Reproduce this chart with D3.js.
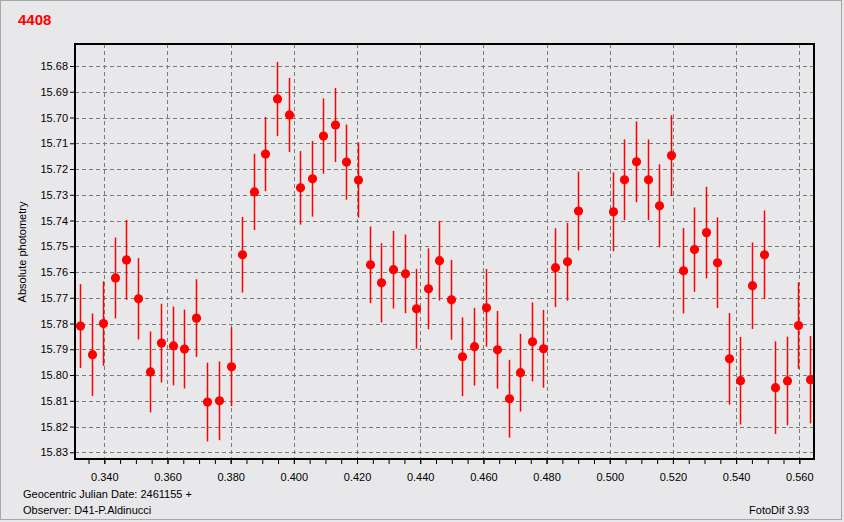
<!DOCTYPE html>
<html><head><meta charset="utf-8">
<script src="https://cdn.jsdelivr.net/npm/d3@7/dist/d3.min.js"></script>
<style>
html,body{margin:0;padding:0;background:#e8e8ea;}
svg{display:block;font-family:"Liberation Sans",Arial,sans-serif;}
</style></head>
<body>
<svg id="c" width="844" height="522"></svg>
<script>
const title = "4408";
const yLabel = "Absolute photometry";
const footer1 = "Geocentric Julian Date: 2461155 +";
const footer2 = "Observer: D41-P.Aldinucci";
const credit = "FotoDif 3.93";

const jd = [0.3323,0.3361,0.3396,0.3434,0.3469,0.3507,0.3545,0.3580,0.3618,0.3652,0.3690,0.3725,0.3763,0.3801,
0.3836,0.3874,0.3909,0.3947,0.3985,0.4020,0.4058,0.4092,0.4130,0.4165,0.4203,0.4241,0.4276,0.4314,0.4352,0.4387,
0.4425,0.4460,0.4498,0.4532,0.4570,0.4608,0.4643,0.4681,0.4716,0.4754,0.4789,0.4827,0.4865,0.4899,
0.5010,0.5045,0.5083,0.5121,0.5156,0.5194,0.5232,0.5267,0.5305,0.5340,0.5378,0.5412,0.5450,0.5488,0.5523,0.5561,0.5596,0.5634];
const mag = [15.7810,15.7921,15.7800,15.7623,15.7553,15.7704,15.7988,15.7876,15.7887,15.7899,15.7779,15.8105,15.8100,15.7968,
15.7533,15.7289,15.7142,15.6928,15.6990,15.7273,15.7238,15.7072,15.7029,15.7173,15.7243,15.7572,15.7642,15.7591,15.7607,15.7743,
15.7665,15.7556,15.7708,15.7929,15.7890,15.7739,15.7902,15.8092,15.7991,15.7871,15.7898,15.7583,15.7560,15.7363,
15.7366,15.7242,15.7172,15.7242,15.7343,15.7148,15.7595,15.7513,15.7447,15.7564,15.7937,15.8022,15.7653,15.7533,15.8049,15.8023,15.7808,15.8018];
const err = [0.0163,0.0160,0.0164,0.0157,0.0155,0.0158,0.0157,0.0153,0.0153,0.0153,0.0151,0.0153,0.0153,0.0153,
0.0147,0.0148,0.0144,0.0144,0.0144,0.0143,0.0147,0.0146,0.0144,0.0146,0.0146,0.0149,0.0154,0.0151,0.0153,0.0155,
0.0157,0.0155,0.0155,0.0153,0.0151,0.0151,0.0151,0.0151,0.0151,0.0153,0.0151,0.0153,0.0151,0.0153,
0.0153,0.0157,0.0157,0.0157,0.0161,0.0157,0.0166,0.0164,0.0178,0.0176,0.0178,0.0170,0.0168,0.0172,0.0180,0.0172,0.0168,0.0170];

const xTicks = [0.340,0.360,0.380,0.400,0.420,0.440,0.460,0.480,0.500,0.520,0.540,0.560];
const xMinor = d3.range(0,47).map(i => +(0.335 + i*0.005).toFixed(3));
const yTicks = [15.68,15.69,15.70,15.71,15.72,15.73,15.74,15.75,15.76,15.77,15.78,15.79,15.80,15.81,15.82,15.83];

const svg = d3.select("#c");
const P = {l:75, r:814, t:44, b:459};

const x = d3.scaleLinear().domain([0.340,0.560]).range([104.3,799.3]);
const y = d3.scaleLinear().domain([15.68,15.83]).range([66,452.3]);

svg.append("rect").attr("x",0.5).attr("y",0.5).attr("width",841).attr("height",519)
  .attr("fill","#e8e8ea").attr("stroke","#a8a8a8");

svg.append("text").attr("x",18).attr("y",25).attr("fill","#ff0000")
  .attr("font-size",15).attr("font-weight","bold").text(title);

svg.append("defs").append("clipPath").attr("id","clip").append("rect")
  .attr("x",P.l).attr("y",P.t).attr("width",P.r-P.l).attr("height",P.b-P.t);

const grid = svg.append("g").attr("stroke","#7a7a7a").attr("stroke-dasharray","4,3").attr("stroke-width",1);
grid.selectAll("line.v").data(xTicks).join("line").attr("class","v")
  .attr("x1",d=>Math.round(x(d))+0.5).attr("x2",d=>Math.round(x(d))+0.5).attr("y1",P.t).attr("y2",P.b);
grid.selectAll("line.h").data(yTicks).join("line").attr("class","h")
  .attr("y1",d=>Math.round(y(d))+0.5).attr("y2",d=>Math.round(y(d))+0.5).attr("x1",P.l).attr("x2",P.r);

const data = jd.map((d,i)=>({x:d,y:mag[i],e:err[i]}));
const g = svg.append("g").attr("clip-path","url(#clip)");
g.selectAll("line.eb").data(data).join("line").attr("class","eb")
  .attr("x1",d=>Math.round(x(d.x))+0.5).attr("x2",d=>Math.round(x(d.x))+0.5)
  .attr("y1",d=>y(d.y-d.e)).attr("y2",d=>y(d.y+d.e))
  .attr("stroke","#ff0000").attr("stroke-width",1.5);
g.selectAll("circle").data(data).join("circle")
  .attr("cx",d=>Math.round(x(d.x))+0.5).attr("cy",d=>y(d.y)).attr("r",4.6).attr("fill","#ff0000");

const xa = svg.append("g").attr("transform",`translate(0,${P.b})`)
  .call(d3.axisBottom(x).tickValues(xMinor.filter(v=>v>=0.331&&v<=0.5645)).tickSize(5).tickFormat(""));
xa.select(".domain").remove();
xa.selectAll("line").attr("stroke","#000");
const xl = svg.append("g").attr("transform",`translate(0,${P.b})`)
  .call(d3.axisBottom(x).tickValues(xTicks).tickSize(5).tickPadding(9).tickFormat(d3.format(".3f")));
xl.select(".domain").remove();
xl.selectAll("line").attr("stroke","#000");
xl.selectAll("text").attr("font-size",11).attr("fill","#000").attr("font-family","Liberation Sans, Arial, sans-serif");

const ya = svg.append("g").attr("transform",`translate(${P.l},0)`)
  .call(d3.axisLeft(y).tickValues(yTicks).tickSize(5).tickPadding(2).tickFormat(d3.format(".2f")));
ya.select(".domain").remove();
ya.selectAll("line").attr("stroke","#000");
ya.selectAll("text").attr("font-size",11).attr("fill","#000").attr("font-family","Liberation Sans, Arial, sans-serif");

svg.append("rect").attr("x",P.l).attr("y",P.t).attr("width",P.r-P.l).attr("height",P.b-P.t)
  .attr("fill","none").attr("stroke","#000").attr("stroke-width",2);

svg.append("text").attr("transform","translate(26,252) rotate(-90)").attr("text-anchor","middle")
  .attr("font-size",11).attr("fill","#000").text(yLabel);

svg.append("text").attr("x",23).attr("y",498).attr("font-size",11).attr("fill","#000").text(footer1);
svg.append("text").attr("x",23).attr("y",514).attr("font-size",11).attr("fill","#000").text(footer2);
svg.append("text").attr("x",809).attr("y",514).attr("text-anchor","end").attr("font-size",11).attr("fill","#000").text(credit);
</script>
</body></html>
